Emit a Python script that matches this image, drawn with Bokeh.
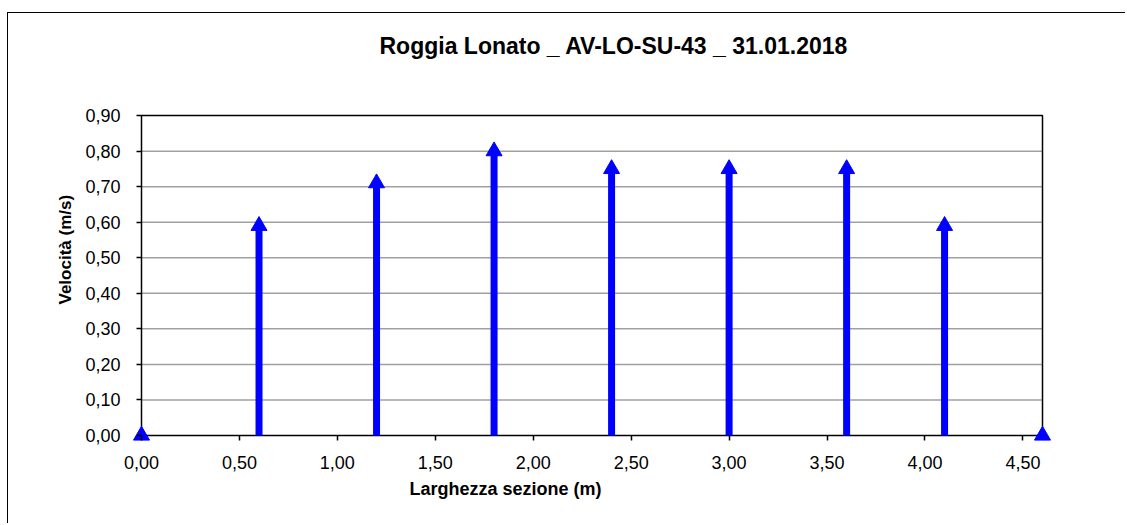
import math
from bokeh.plotting import figure
from bokeh.models import (ColumnDataSource, CustomJSTickFormatter, FixedTicker, Range1d,
                          Title, Label)
from bokeh.embed import file_html
from bokeh.resources import INLINE

# ---- data ----
x_pos = [0.0, 0.6, 1.2, 1.8, 2.4, 3.0, 3.6, 4.1, 4.6]
velocity = [0.0, 0.59, 0.71, 0.80, 0.75, 0.75, 0.75, 0.59, 0.0]
x_ticks = [0.0, 0.5, 1.0, 1.5, 2.0, 2.5, 3.0, 3.5, 4.0, 4.5]
y_ticks = [0.0, 0.1, 0.2, 0.3, 0.4, 0.5, 0.6, 0.7, 0.8, 0.9]
x_min, x_max = 0.0, 4.6
y_min, y_max = 0.0, 0.9
title_text = "Roggia Lonato _ AV-LO-SU-43 _ 31.01.2018"
x_title = "Larghezza sezione (m)"
y_title = "Velocità (m/s)"

FONT = "Liberation Sans"
BLUE = "#0000FF"

# pixel geometry of the plot area (frame padded so edge markers and title fit inside)
PX_PER_X = 901 / (x_max - x_min)
PX_PER_Y = 319.5 / (y_max - y_min)
PAD_L = PAD_R = 10
PAD_T, PAD_B = 102, 10
FRAME_W = 901 + PAD_L + PAD_R
FRAME_H = 319.5 + PAD_T + PAD_B

x_range = Range1d(x_min - PAD_L / PX_PER_X, x_max + PAD_R / PX_PER_X)
y_range = Range1d(y_min - PAD_B / PX_PER_Y, y_max + PAD_T / PX_PER_Y)

src = ColumnDataSource(data=dict(x=x_pos, v=velocity, zero=[0.0] * len(x_pos)))
inner = y_ticks[1:-1]
grid_src = ColumnDataSource(data=dict(y=inner, x0=[x_min] * len(inner), x1=[x_max] * len(inner)))

W, H = 1118, 511
p = figure(width=W, height=H, x_range=x_range, y_range=y_range, title=None,
           output_backend="svg", toolbar_location=None,
           min_border_left=123, min_border_right=int(W - 123 - FRAME_W),
           min_border_top=0, min_border_bottom=int(H - FRAME_H))
p.margin = (12, 0, 0, 7)
p.styles = {"border-left": "1px solid black", "border-top": "1px solid black"}

p.background_fill_color = "white"
p.border_fill_color = "white"
p.outline_line_color = None
p.xgrid.visible = False
p.ygrid.visible = False

fmt = CustomJSTickFormatter(code="return tick.toFixed(2).replace('.', ',');")

for ax, ticks in ((p.xaxis, x_ticks), (p.yaxis, y_ticks)):
    ax.ticker = FixedTicker(ticks=ticks)
    ax.formatter = fmt
    ax.major_label_text_font = FONT
    ax.major_label_text_font_size = "18px"
    ax.major_label_text_color = "black"
    ax.axis_line_color = None
    ax.major_tick_line_color = "black"
    ax.major_tick_line_width = 1.5
    ax.minor_tick_line_color = None
# ticks start at the data origin (inside the padded frame) and stick out 5px
p.xaxis.major_tick_in = PAD_B
p.xaxis.major_tick_out = -(PAD_B - 5)
p.xaxis.major_label_standoff = 10
p.yaxis.major_tick_in = PAD_L
p.yaxis.major_tick_out = -(PAD_L - 5)
p.yaxis.major_label_standoff = 11

# chart title (inside the padded top area of the frame)
p.add_layout(Label(x=x_min + 238 / PX_PER_X, y=y_max + 69.7 / PX_PER_Y, text=title_text,
                   text_align="left", text_baseline="alphabetic",
                   text_font=FONT, text_font_size="23px", text_font_style="bold",
                   text_color="black"))

# axis titles
p.add_layout(Title(text=x_title, align="left", offset=278, vertical_align="top", standoff=14,
                   text_font=FONT, text_font_size="18px", text_font_style="bold",
                   text_color="black"), "below")
p.add_layout(Title(text=y_title, align="left", offset=141, vertical_align="bottom", standoff=15,
                   text_font=FONT, text_font_size="17px", text_font_style="bold",
                   text_color="black"), "left")

# horizontal grid lines and plot-area border
p.segment(x0="x0", y0="y", x1="x1", y1="y", source=grid_src,
          line_color="#A0A0A0", line_width=1.5)
p.quad(left=x_min, right=x_max, bottom=y_min, top=y_max,
       fill_color=None, line_color="black", line_width=1.5)

# arrows: shaft + triangle head
p.segment(x0="x", y0="zero", x1="x", y1="v", source=src,
          line_color=BLUE, line_width=7, line_cap="butt")
p.scatter(x="x", y="v", source=src, marker="triangle", size=16,
          fill_color=BLUE, line_color=BLUE)

open("out.html", "w").write(file_html(p, INLINE))
